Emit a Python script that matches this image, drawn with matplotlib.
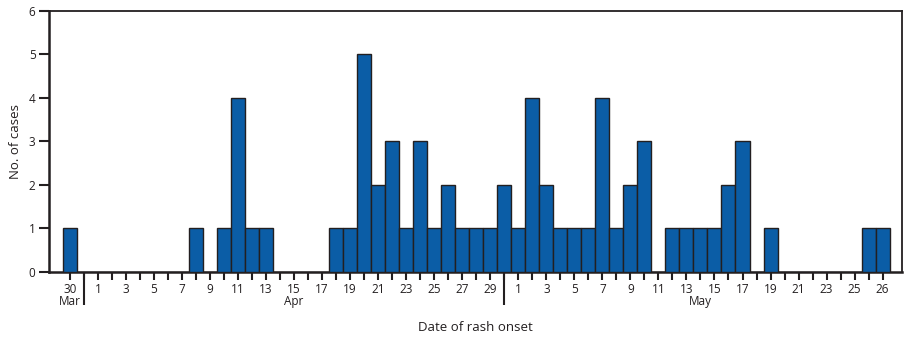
import matplotlib
matplotlib.use("Agg")
import matplotlib.pyplot as plt
import matplotlib.transforms as mtransforms
import numpy as np

# Days from Mar 30 through the final bar (index 0 = Mar 30)
day_labels = (["30", "31"] + [str(d) for d in range(1, 31)] +
              [str(d) for d in range(1, 28)])
# counts per day
cases = [1, 0,
         # Apr 1-30
         0, 0, 0, 0, 0, 0, 0, 1, 0, 1, 4, 1, 1, 0, 0, 0, 0, 1, 1, 5,
         2, 3, 1, 3, 1, 2, 1, 1, 1, 2,
         # May 1-27
         1, 4, 2, 1, 1, 1, 4, 1, 2, 3, 0, 1, 1, 1, 1, 2, 3, 0, 1, 0,
         0, 0, 0, 0, 0, 1, 1]
# tick labels shown on the axis (as printed in the original)
shown_labels = (["30", ""] +
                [str(d) if d % 2 == 1 else "" for d in range(1, 31)] +
                [str(d) if d % 2 == 1 and d <= 25 else "" for d in range(1, 27)] + ["26"])
months = ["Mar", "Apr", "May"]
month_label_idx = [0, 16, 45]      # Mar 30, Apr 15, May 14
month_sep_idx = [1, 31]            # Mar 31, Apr 30

plt.rcParams['font.family'] = ['Open Sans', 'DejaVu Sans']
text_c = '#231f20'

fig = plt.figure(figsize=(9.13, 3.43), dpi=100)
ax = fig.add_axes([0.0542, 0.2079, 0.9334, 0.7609])

x = np.arange(len(cases))
ax.bar(x, cases, width=1.0, color='#0b5da6', edgecolor='#231f20', linewidth=1.0, zorder=3)

ax.set_xlim(-1.46, 59.36)
ax.set_ylim(0, 6)
ax.set_yticks(range(0, 7))
ax.set_xticks(x)
ax.set_xticklabels(shown_labels)

for s in ax.spines.values():
    s.set_color(text_c)
    s.set_linewidth(1.3)
ax.spines['left'].set_linewidth(1.8)
ax.spines['bottom'].set_linewidth(1.8)

ax.tick_params(axis='x', length=6, width=1.5, color=text_c, pad=2, labelsize=8.5, labelcolor=text_c)
ax.tick_params(axis='y', length=7, width=1.5, color=text_c, pad=3, labelsize=8.5, labelcolor=text_c)

trans = mtransforms.blended_transform_factory(ax.transData, ax.transAxes)
for i in month_sep_idx:
    ax.plot([i, i], [0, -0.128], transform=trans, color=text_c, lw=1.5,
            clip_on=False, solid_capstyle='butt')
for m, i in zip(months, month_label_idx):
    ax.text(i, -0.114, m, transform=trans, ha='center', va='center',
            fontsize=8.5, color=text_c)

ax.set_ylabel("No. of cases", fontsize=9.5, color=text_c, labelpad=5)
ax.text(0.5, -0.215, "Date of rash onset", transform=ax.transAxes, ha='center',
        va='center', fontsize=9.5, color=text_c)

fig.savefig("out.png", dpi=100)
